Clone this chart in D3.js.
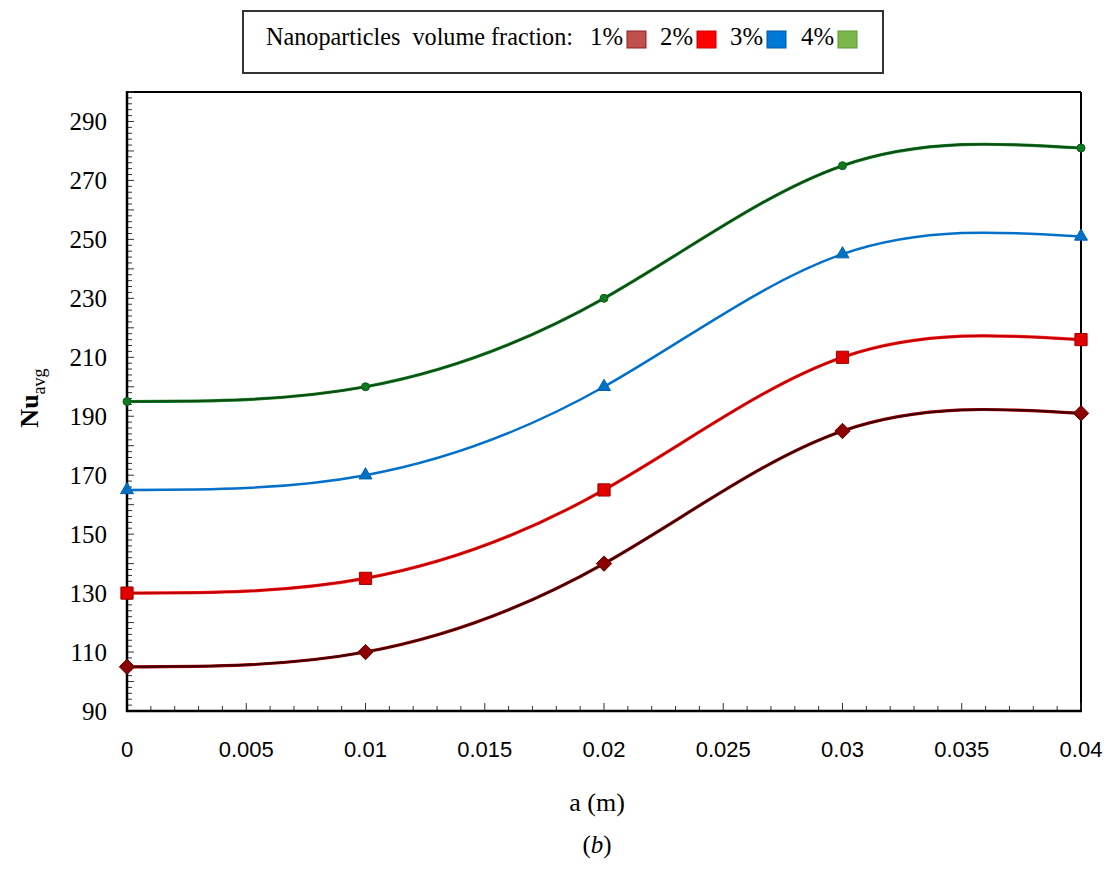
<!DOCTYPE html>
<html>
<head>
<meta charset="utf-8">
<script src="https://cdn.jsdelivr.net/npm/d3@7"></script>
<style>
  body { margin: 0; background: #fff; }
</style>
</head>
<body>
<div id="chart"></div>
<script>
// data
var aValues = [0, 0.01, 0.02, 0.03, 0.04];
var nu1 = [105, 110, 140, 185, 191];
var nu2 = [130, 135, 165, 210, 216];
var nu3 = [165, 170, 200, 245, 251];
var nu4 = [195, 200, 230, 275, 281];
var seriesNames = ["1%", "2%", "3%", "4%"];
var xTickLabels = [0, 0.005, 0.01, 0.015, 0.02, 0.025, 0.03, 0.035, 0.04];
var yTickLabels = [90, 110, 130, 150, 170, 190, 210, 230, 250, 270, 290];

var serif = "'Liberation Serif', 'Times New Roman', Times, 'DejaVu Serif', serif";

var width = 1108,
    height = 873,
    margin = {top: 92, right: 27, bottom: 162, left: 127};

var svg = d3.select("#chart").append("svg")
    .attr("width", width)
    .attr("height", height)
    .attr("font-family", serif);

var x = d3.scaleLinear().domain([0, 0.04]).range([margin.left, width - margin.right]);
var y = d3.scaleLinear().domain([90, 300]).range([height - margin.bottom, margin.top]);

var styles = [
  {line: "#3a0000", edge: "#b00000", marker: d3.symbolDiamond2, fill: "#8b0000", stroke: "#5a0000", size: 150},
  {line: "#c00000", edge: "#ff2020", marker: d3.symbolSquare2, fill: "#e00000", stroke: "#a00000", size: 190},
  {line: "#0070c8", edge: null, marker: d3.symbolTriangle2, fill: "#0072c6", stroke: "#0060b0", size: 120},
  {line: "#0d4d14", edge: "#1a8a2a", marker: d3.symbolCircle, fill: "#0f7a20", stroke: "#0b5a18", size: 50}
];
var legendColors = ["#c0504d", "#ff0000", "#0078d7", "#7ab648"];
var legendBorders = ["#8b2020", "#c00000", "#0058a8", "#5a9a30"];

var series = [nu1, nu2, nu3, nu4].map(function(vals, i) {
  return {name: seriesNames[i], points: vals.map(function(v, j) { return {a: aValues[j], nu: v}; })};
});

// plot frame
var x0 = x.range()[0], x1 = x.range()[1], y0 = y.range()[0], y1 = y.range()[1];
svg.append("line").attr("x1", x0).attr("x2", x1).attr("y1", y1).attr("y2", y1)
    .attr("stroke", "#000").attr("stroke-width", 2);
svg.append("line").attr("x1", x1).attr("x2", x1).attr("y1", y1).attr("y2", y0)
    .attr("stroke", "#000").attr("stroke-width", 2);

// y axis: ticks inward
var yMinor = d3.range(90, 301, 2);
svg.append("g").selectAll("line").data(yMinor).enter().append("line")
    .attr("x1", x0).attr("x2", function(d) { return x0 + (d % 10 === 0 ? 7 : 5); })
    .attr("y1", function(d) { return y(d); }).attr("y2", function(d) { return y(d); })
    .attr("stroke", "#333").attr("stroke-width", 1);
svg.append("g").selectAll("text").data(yTickLabels).enter().append("text")
    .attr("x", x0 - 20).attr("y", function(d) { return y(d); })
    .attr("dy", "0.35em")
    .attr("text-anchor", "end")
    .attr("font-family", serif)
    .style("font-size", "25px")
    .text(function(d) { return d; });

// x axis: ticks inward
var xMinor = d3.range(0, 41).map(function(d) { return d / 1000; });
svg.append("g").selectAll("line").data(xMinor).enter().append("line")
    .attr("x1", function(d) { return x(d); }).attr("x2", function(d) { return x(d); })
    .attr("y1", y0).attr("y2", function(d, i) { return y0 - (i % 5 === 0 ? 8 : 5); })
    .attr("stroke", "#333").attr("stroke-width", 1);
svg.append("g").selectAll("text").data(xTickLabels).enter().append("text")
    .attr("x", function(d) { return x(d); }).attr("y", y0 + 46)
    .attr("text-anchor", "middle")
    .attr("font-family", "'Liberation Sans', Arial, sans-serif")
    .style("font-size", "22px")
    .text(function(d) { return d; });

svg.append("line").attr("x1", x0).attr("x2", x0).attr("y1", y1 - 1).attr("y2", y0 + 1)
    .attr("stroke", "#000").attr("stroke-width", 2.5);
svg.append("line").attr("x1", x0 - 1).attr("x2", x1 + 1).attr("y1", y0).attr("y2", y0)
    .attr("stroke", "#000").attr("stroke-width", 2.5);

// axis titles
svg.append("text").attr("x", 597).attr("y", 811)
    .attr("text-anchor", "middle").attr("font-family", serif)
    .style("font-size", "26px").text("a (m)");
var capt = svg.append("text").attr("x", 597).attr("y", 853)
    .attr("text-anchor", "middle").attr("font-family", serif).style("font-size", "25px");
capt.append("tspan").text("(");
capt.append("tspan").style("font-style", "italic").text("b");
capt.append("tspan").text(")");

var ylab = svg.append("text")
    .attr("transform", "translate(38," + 398 + ") rotate(-90)")
    .attr("text-anchor", "middle")
    .attr("font-family", serif)
    .style("font-size", "26px").style("font-weight", "bold");
ylab.append("tspan").text("Nu");
ylab.append("tspan").attr("dy", 7).style("font-size", "18px").style("font-weight", "normal").text("avg");

// curves
var line = d3.line()
    .x(function(d) { return x(d.a); })
    .y(function(d) { return y(d.nu); })
    .curve(d3.curveNatural);

var g = svg.selectAll(".series").data(series).enter().append("g").attr("class", "series");

g.filter(function(d, i) { return styles[i].edge; }).append("path")
    .attr("d", function(d) { return line(d.points); })
    .attr("fill", "none")
    .attr("stroke", function(d) { return styles[series.indexOf(d)].edge; })
    .attr("stroke-width", 3.2);
g.append("path")
    .attr("d", function(d) { return line(d.points); })
    .attr("fill", "none")
    .attr("stroke", function(d, i) { return styles[i].line; })
    .attr("stroke-width", function(d, i) { return i === 2 ? 2.5 : 2; });

g.each(function(s, i) {
  var st = styles[i];
  d3.select(this).selectAll("path.mk").data(s.points).enter().append("path")
      .attr("class", "mk")
      .attr("transform", function(d) { return "translate(" + x(d.a) + "," + y(d.nu) + ")"; })
      .attr("d", d3.symbol().type(st.marker).size(st.size))
      .attr("fill", st.fill)
      .attr("stroke", st.stroke)
      .attr("stroke-width", 1);
});

// legend box
var lg = svg.append("g");
lg.append("rect").attr("x", 243).attr("y", 11).attr("width", 640).attr("height", 62)
    .attr("fill", "#fff").attr("stroke", "#333").attr("stroke-width", 2);
lg.append("text").attr("x", 266).attr("y", 45).attr("font-family", serif).style("font-size", "25px")
    .attr("textLength", 307).attr("lengthAdjust", "spacingAndGlyphs")
    .style("white-space", "pre")
    .text("Nanoparticles  volume fraction:");
var legX = [590, 660, 730, 801];
seriesNames.forEach(function(n, i) {
  lg.append("text").attr("x", legX[i]).attr("y", 45).attr("font-family", serif)
      .style("font-size", "25px").attr("textLength", 33).attr("lengthAdjust", "spacingAndGlyphs").text(n);
  lg.append("rect").attr("x", legX[i] + 37).attr("y", 31).attr("width", 19).attr("height", 17)
      .attr("fill", legendColors[i]).attr("stroke", legendBorders[i]).attr("stroke-width", 1);
});
</script>
</body>
</html>
